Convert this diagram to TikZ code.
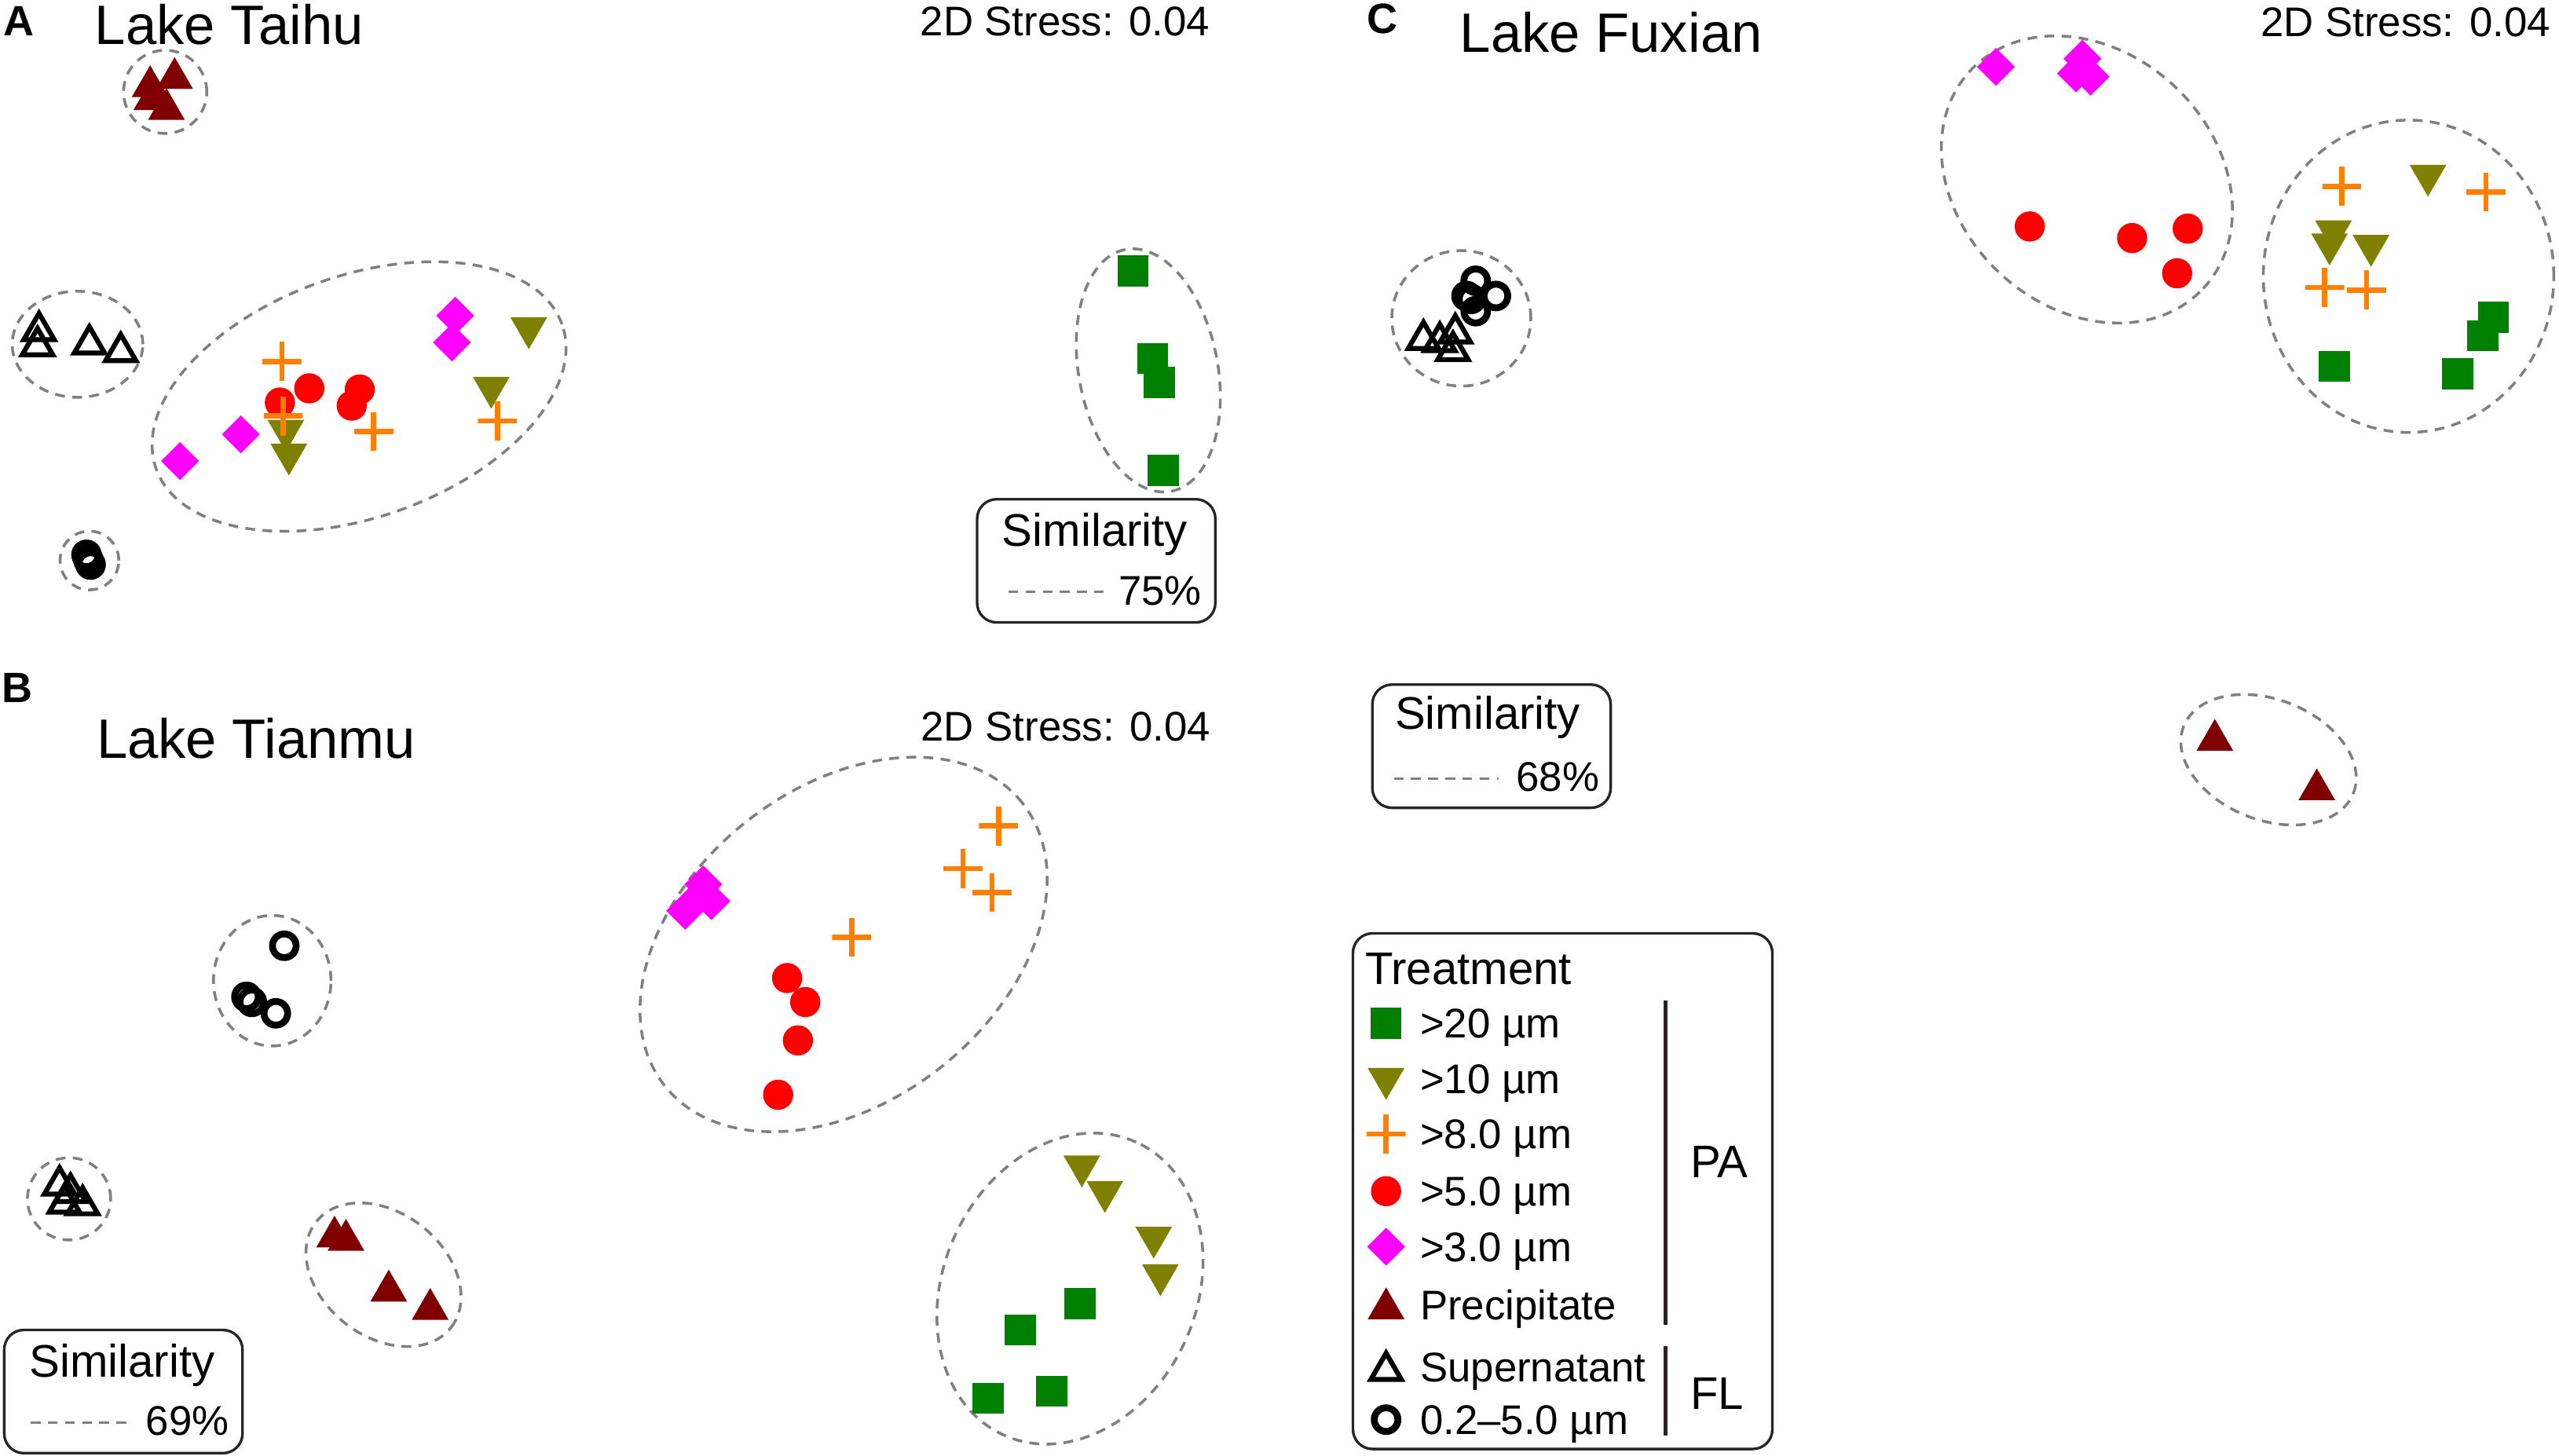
\documentclass[tikz,border=0pt]{standalone}
\usepackage{fontspec}
\setmainfont{Liberation Sans}
\usetikzlibrary{shapes.geometric}
\definecolor{col20}{RGB}{0,128,0}
\definecolor{col10}{RGB}{128,128,0}
\definecolor{col8}{RGB}{255,128,0}
\definecolor{col5}{RGB}{255,0,0}
\definecolor{col3}{RGB}{255,0,255}
\definecolor{colprec}{RGB}{128,0,0}
\definecolor{clusgray}{RGB}{128,128,128}
\definecolor{boxgray}{RGB}{40,36,37}
\newcommand{\panelfont}{\fontsize{26bp}{30bp}\bfseries\selectfont}
\newcommand{\lakefont}{\fontsize{34bp}{40bp}\selectfont}
\newcommand{\stressfont}{\fontsize{25.4bp}{30bp}\selectfont}
\newcommand{\simfont}{\fontsize{28bp}{33bp}\selectfont}
\newcommand{\legfont}{\fontsize{25.4bp}{30bp}\selectfont}
\begin{document}
\begin{tikzpicture}[line join=miter,
  m20/.style={rectangle,fill=col20,minimum size=19bp,inner sep=0pt},
  m10/.style={regular polygon,regular polygon sides=3,shape border rotate=180,fill=col10,minimum size=26bp,inner sep=0pt},
  m8/.style={rectangle,minimum size=24bp,inner sep=0pt,
    path picture={\draw[col8,line width=3.2bp] (path picture bounding box.north) -- (path picture bounding box.south)
      (path picture bounding box.west) -- (path picture bounding box.east);}},
  m5/.style={circle,fill=col5,minimum size=18.5bp,inner sep=0pt},
  m3/.style={diamond,fill=col3,minimum width=23.4bp,minimum height=23.4bp,inner sep=0pt},
  mprec/.style={regular polygon,regular polygon sides=3,fill=colprec,minimum size=26bp,inner sep=0pt},
  msup/.style={regular polygon,regular polygon sides=3,draw=black,line width=3bp,minimum size=21.5bp,inner sep=0pt},
  mring/.style={circle,draw=black,line width=4.2bp,minimum size=14.5bp,inner sep=0pt},
  clus/.style={draw=clusgray,line width=1.7bp,dash pattern=on 6bp off 4.5bp},
  simbox/.style={draw=boxgray,line width=1.6bp,rounded corners=12bp,minimum width=146bp,minimum height=75.5bp,inner sep=0pt},
  txt/.style={inner sep=0pt,text=black}]
\useasboundingbox (0bp,0bp) rectangle (1568bp,892bp);
%%
% Panel A: Lake Taihu
\begin{scope}
  \node[txt,anchor=base west] (aLetter) at (2bp,870.3bp) {\panelfont A};
  \node[txt,anchor=base west] (aTitle) at (58bp,865bp) {\lakefont Lake Taihu};
  \node[txt,anchor=base east] (aStress) at (741.5bp,870.3bp) {\stressfont 2D Stress: 0.04};
  % Cluster: Precipitate
  \draw[clus] (101.2bp,835.7bp) circle (25.5bp);
  \node[mprec] (aP1) at (92bp,839bp) {};
  \node[mprec] (aP2) at (107bp,844bp) {};
  \node[mprec] (aP3) at (93bp,831bp) {};
  \node[mprec] (aP4) at (102bp,825bp) {};
  % Cluster: Supernatant
  \draw[clus] (47.5bp,681bp) ellipse [x radius=40bp, y radius=32.5bp];
  \node[msup] (aS1) at (23.9bp,689.2bp) {};
  \node[msup] (aS2) at (23bp,680bp) {};
  \node[msup] (aS3) at (54.8bp,681bp) {};
  \node[msup] (aS4) at (74bp,676.3bp) {};
  % Cluster: 0.2-5.0 um
  \draw[clus] (54.8bp,548.5bp) circle (18bp);
  \node[mring] (aR1) at (53bp,552bp) {};
  \node[mring] (aR2) at (55.5bp,546bp) {};
  \node[mring] (aR3) at (54.3bp,548.5bp) {};
  % Cluster: >3.0 to >10 um
  \draw[clus,rotate around={19.6:(220bp,649bp)}] (220bp,649bp) ellipse [x radius=132bp, y radius=74bp];
  \node[m3] (a3a) at (278.9bp,698.5bp) {};
  \node[m3] (a3b) at (276.9bp,682.1bp) {};
  \node[m3] (a3c) at (147.6bp,625.8bp) {};
  \node[m3] (a3d) at (110.3bp,609.4bp) {};
  \node[m5] (a5a) at (171.5bp,645.3bp) {};
  \node[m5] (a5b) at (189.5bp,654bp) {};
  \node[m5] (a5c) at (220.4bp,653.3bp) {};
  \node[m5] (a5d) at (215.5bp,643.4bp) {};
  \node[m10] (a10a) at (324bp,691bp) {};
  \node[m10] (a10b) at (301bp,654.5bp) {};
  \node[m10] (a10c) at (175.2bp,628.2bp) {};
  \node[m10] (a10d) at (177bp,613.6bp) {};
  \node[m8] (a8a) at (172.8bp,670.4bp) {};
  \node[m8] (a8b) at (173.5bp,637.1bp) {};
  \node[m8] (a8c) at (229bp,627.5bp) {};
  \node[m8] (a8d) at (304.8bp,634bp) {};
  % Cluster: >20 um
  \draw[clus,rotate around={10.7:(703.6bp,665bp)}] (703.6bp,665bp) ellipse [x radius=42.6bp, y radius=75.4bp];
  \node[m20] (a20a) at (694.2bp,725.9bp) {};
  \node[m20] (a20b) at (706.3bp,672.3bp) {};
  \node[m20] (a20c) at (710.3bp,657.5bp) {};
  \node[m20] (a20d) at (712.8bp,603.7bp) {};
  % Similarity box
  \node[simbox] (aSim) at (671.7bp,548.3bp) {};
  \node[txt,anchor=base west] (aSimT) at ([xshift=16bp,yshift=-29.5bp]aSim.north west) {\simfont Similarity};
  \draw[clus] ([xshift=20bp,yshift=-57.5bp]aSim.north west) -- ++(62bp,0bp);
  \node[txt,anchor=base east] (aSimV) at ([xshift=-9bp,yshift=-65.5bp]aSim.north east) {\stressfont 75\%};
\end{scope}
%%
% Panel B: Lake Tianmu
\begin{scope}
  \node[txt,anchor=base west] (bLetter) at (1bp,461.3bp) {\panelfont B};
  \node[txt,anchor=base west] (bTitle) at (59bp,427.2bp) {\lakefont Lake Tianmu};
  \node[txt,anchor=base east] (bStress) at (741.9bp,437.7bp) {\stressfont 2D Stress: 0.04};
  % Cluster: 0.2-5.0 um
  \draw[clus] (166.8bp,291bp) ellipse [x radius=36bp, y radius=40bp];
  \node[mring] (bR1) at (174.2bp,312.4bp) {};
  \node[mring] (bR2) at (151bp,281.1bp) {};
  \node[mring] (bR3) at (154.3bp,278bp) {};
  \node[mring] (bR4) at (169bp,271bp) {};
  % Cluster: Supernatant
  \draw[clus] (42.3bp,157.3bp) ellipse [x radius=25.5bp, y radius=25.2bp];
  \node[msup] (bS1) at (36.5bp,165.6bp) {};
  \node[msup] (bS2) at (43.2bp,161bp) {};
  \node[msup] (bS3) at (50.6bp,153.5bp) {};
  \node[msup] (bS4) at (39.5bp,154.5bp) {};
  % Cluster: Precipitate
  \draw[clus,rotate around={-38:(235bp,110.8bp)}] (235bp,110.8bp) ellipse [x radius=52.5bp, y radius=37.9bp];
  \node[mprec] (bP1) at (205bp,134bp) {};
  \node[mprec] (bP2) at (212bp,132bp) {};
  \node[mprec] (bP3) at (238.2bp,100.9bp) {};
  \node[mprec] (bP4) at (263.6bp,89.7bp) {};
  % Cluster: >3.0 to >8.0 um
  \draw[clus,rotate around={38.3:(516.9bp,313.2bp)}] (516.9bp,313.2bp) ellipse [x radius=139.7bp, y radius=96bp];
  \node[m3] (b3a) at (430.9bp,350bp) {};
  \node[m3] (b3b) at (419.8bp,333.8bp) {};
  \node[m3] (b3c) at (435.9bp,339.7bp) {};
  \node[m3] (b3d) at (428.5bp,342.7bp) {};
  \node[m8] (b8a) at (611.8bp,385.9bp) {};
  \node[m8] (b8b) at (590.1bp,359.7bp) {};
  \node[m8] (b8c) at (607.9bp,345bp) {};
  \node[m8] (b8d) at (521.8bp,317.6bp) {};
  \node[m5] (b5a) at (482.3bp,292.6bp) {};
  \node[m5] (b5b) at (493.4bp,277.9bp) {};
  \node[m5] (b5c) at (488.9bp,254.4bp) {};
  \node[m5] (b5d) at (476.8bp,221.1bp) {};
  % Cluster: >10 and >20 um
  \draw[clus,rotate around={65.7:(655.6bp,102.3bp)}] (655.6bp,102.3bp) ellipse [x radius=98.5bp, y radius=77.6bp];
  \node[m10] (b10a) at (662.9bp,177.3bp) {};
  \node[m10] (b10b) at (677bp,161.7bp) {};
  \node[m10] (b10c) at (706.9bp,133.7bp) {};
  \node[m10] (b10d) at (711bp,110.7bp) {};
  \node[m20] (b20a) at (661.7bp,93.1bp) {};
  \node[m20] (b20b) at (625.2bp,76.9bp) {};
  \node[m20] (b20c) at (644.4bp,39.5bp) {};
  \node[m20] (b20d) at (605.4bp,35.1bp) {};
  % Similarity box
  \node[simbox] (bSim) at (75.6bp,39.2bp) {};
  \node[txt,anchor=base west] (bSimT) at ([xshift=16bp,yshift=-29.5bp]bSim.north west) {\simfont Similarity};
  \draw[clus] ([xshift=17bp,yshift=-57.5bp]bSim.north west) -- ++(62bp,0bp);
  \node[txt,anchor=base east] (bSimV) at ([xshift=-9bp,yshift=-65.5bp]bSim.north east) {\stressfont 69\%};
\end{scope}
%%
% Panel C: Lake Fuxian
\begin{scope}
  \node[txt,anchor=base west] (cLetter) at (837.5bp,871.6bp) {\panelfont C};
  \node[txt,anchor=base west] (cTitle) at (894.4bp,860.2bp) {\lakefont Lake Fuxian};
  \node[txt,anchor=base east] (cStress) at (1562.8bp,869.8bp) {\stressfont 2D Stress: 0.04};
  % Cluster: Supernatant and 0.2-5.0 um
  \draw[clus] (895.4bp,696.9bp) ellipse [x radius=42.6bp, y radius=41.5bp];
  \node[mring] (cR1) at (904.2bp,719.9bp) {};
  \node[mring] (cR2) at (916.6bp,710.6bp) {};
  \node[mring] (cR3) at (901.4bp,708.8bp) {};
  \node[mring] (cR4) at (904.2bp,701.3bp) {};
  \node[mring] (cR5) at (898.6bp,710.6bp) {};
  \node[msup] (cS1) at (872.2bp,683.8bp) {};
  \node[msup] (cS2) at (882.2bp,682.5bp) {};
  \node[msup] (cS3) at (891.7bp,687.8bp) {};
  \node[msup] (cS4) at (890.3bp,677bp) {};
  % Cluster: >3.0 and >5.0 um
  \draw[clus,rotate around={-43.2:(1278.7bp,782bp)}] (1278.7bp,782bp) ellipse [x radius=97.7bp, y radius=78.4bp];
  \node[m3] (c3a) at (1223bp,851bp) {};
  \node[m3] (c3b) at (1276bp,856bp) {};
  \node[m3] (c3c) at (1281bp,845bp) {};
  \node[m3] (c3d) at (1272bp,847bp) {};
  \node[m5] (c5a) at (1243.7bp,753.2bp) {};
  \node[m5] (c5b) at (1306.4bp,746.1bp) {};
  \node[m5] (c5c) at (1340.5bp,751.9bp) {};
  \node[m5] (c5d) at (1334bp,724.5bp) {};
  % Cluster: >8.0 to >20 um
  \draw[clus] (1475.8bp,722.7bp) ellipse [x radius=89bp, y radius=95.7bp];
  \node[m10] (c10a) at (1487.7bp,784.5bp) {};
  \node[m10] (c10b) at (1429.8bp,750.4bp) {};
  \node[m10] (c10c) at (1427.4bp,742.4bp) {};
  \node[m10] (c10d) at (1452.8bp,741.5bp) {};
  \node[m8] (c8a) at (1434.9bp,777.8bp) {};
  \node[m8] (c8b) at (1523.2bp,774.3bp) {};
  \node[m8] (c8c) at (1424.4bp,715.8bp) {};
  \node[m8] (c8d) at (1450.1bp,714.3bp) {};
  \node[m20] (c20a) at (1527.9bp,697.6bp) {};
  \node[m20] (c20b) at (1521.2bp,686.2bp) {};
  \node[m20] (c20c) at (1430.4bp,667.5bp) {};
  \node[m20] (c20d) at (1506bp,662.8bp) {};
  % Cluster: Precipitate
  \draw[clus,rotate around={-21.5:(1390bp,426.4bp)}] (1390bp,426.4bp) ellipse [x radius=55.9bp, y radius=36.9bp];
  \node[mprec] (cP1) at (1357.1bp,438.4bp) {};
  \node[mprec] (cP2) at (1419.6bp,408.1bp) {};
  % Similarity box
  \node[simbox] (cSim) at (913.9bp,434.7bp) {};
  \node[txt,anchor=base west] (cSimT) at ([xshift=14.5bp,yshift=-28bp]cSim.north west) {\simfont Similarity};
  \draw[clus] ([xshift=14bp,yshift=-58.5bp]cSim.north west) -- ++(64bp,0bp);
  \node[txt,anchor=base east] (cSimV) at ([xshift=-7.5bp,yshift=-66bp]cSim.north east) {\stressfont 68\%};
\end{scope}
%%
% Legend: Treatment
\begin{scope}
  \node[simbox,minimum width=257bp,minimum height=316bp] (legBox) at (957.5bp,162bp) {};
  \node[txt,anchor=base west] (legTitle) at (836.3bp,288.5bp) {\simfont Treatment};
  \node[m20] (leg20) at (849.3bp,265bp) {};
  \node[txt,anchor=base west] (leg20T) at (870bp,256bp) {\legfont >20 µm};
  \node[m10] (leg10) at (849.3bp,231bp) {};
  \node[txt,anchor=base west] (leg10T) at (870bp,222bp) {\legfont >10 µm};
  \node[m8] (leg8) at (849.3bp,197bp) {};
  \node[txt,anchor=base west] (leg8T) at (870bp,188bp) {\legfont >8.0 µm};
  \node[m5] (leg5) at (849.3bp,162bp) {};
  \node[txt,anchor=base west] (leg5T) at (870bp,153bp) {\legfont >5.0 µm};
  \node[m3] (leg3) at (849.3bp,128bp) {};
  \node[txt,anchor=base west] (leg3T) at (870bp,119bp) {\legfont >3.0 µm};
  \node[mprec] (legP) at (849.3bp,90bp) {};
  \node[txt,anchor=base west] (legPT) at (870bp,83bp) {\legfont Precipitate};
  \node[msup] (legS) at (849.3bp,52bp) {};
  \node[txt,anchor=base west] (legST) at (870bp,45bp) {\legfont Supernatant};
  \node[mring] (legR) at (849.3bp,22bp) {};
  \node[txt,anchor=base west] (legRT) at (870bp,13bp) {\legfont 0.2–5.0 µm};
  % Groups
  \coordinate (paTop) at (1020.5bp,279bp);
  \coordinate (paBot) at (1020.5bp,80bp);
  \coordinate (flTop) at (1020.5bp,67bp);
  \coordinate (flBot) at (1020.5bp,12bp);
  \draw[boxgray,line width=2.6bp] (paTop) -- (paBot);
  \draw[boxgray,line width=2.6bp] (flTop) -- (flBot);
  \node[txt,anchor=west] (legPA) at (1035.5bp,180bp) {\simfont PA};
  \node[txt,anchor=west] (legFL) at (1035.5bp,38bp) {\simfont FL};
\end{scope}
%
\end{tikzpicture}
\end{document}
